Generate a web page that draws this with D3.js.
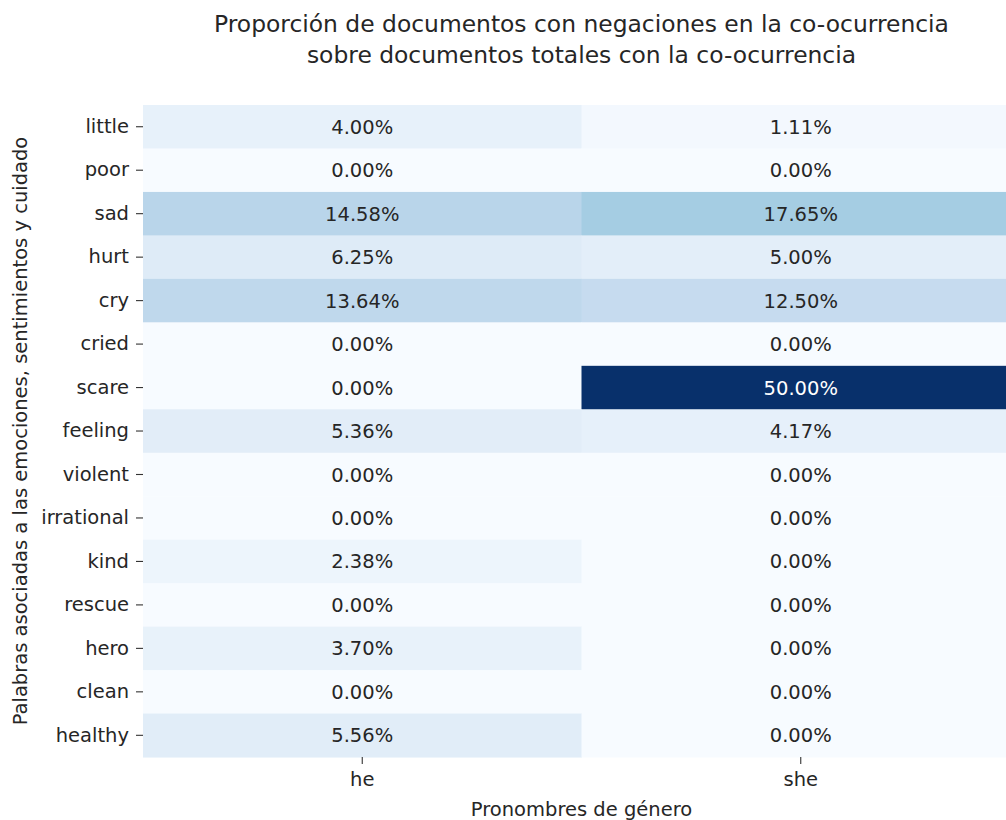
<!DOCTYPE html>
<html>
<head>
<meta charset="utf-8">
<script src="https://cdn.jsdelivr.net/npm/d3@7"></script>
<style>
  body { margin: 0; background: #fff; }
  text { font-family: 'DejaVu Sans', sans-serif; }
</style>
</head>
<body>
<div class="canvas"></div>
<script>
const words = ['little', 'poor', 'sad', 'hurt', 'cry', 'cried', 'scare', 'feeling',
  'violent', 'irrational', 'kind', 'rescue', 'hero', 'clean', 'healthy'];
const pronouns = ['he', 'she'];
const heValues = [4.00, 0.00, 14.58, 6.25, 13.64, 0.00, 0.00, 5.36, 0.00, 0.00, 2.38, 0.00, 3.70, 0.00, 5.56];
const sheValues = [1.11, 0.00, 17.65, 5.00, 12.50, 0.00, 50.00, 4.17, 0.00, 0.00, 0.00, 0.00, 0.00, 0.00, 0.00];

const titleLines = [
  'Proporción de documentos con negaciones en la co-ocurrencia',
  'sobre documentos totales con la co-ocurrencia'
];
const xTitle = 'Pronombres de género';
const yTitle = 'Palabras asociadas a las emociones, sentimientos y cuidado';

const cells = [];
words.forEach((w, i) => {
  cells.push({ word: w, pron: 'he', value: heValues[i] });
  cells.push({ word: w, pron: 'she', value: sheValues[i] });
});

const dims = { width: 1006, height: 820 };
const margin = { top: 105, left: 143 };
const cellW = 438.5;
const rowH = 43.47;
const fs = 19.5;

const svg = d3
  .select('.canvas')
  .append('svg')
  .attr('width', dims.width)
  .attr('height', dims.height);

const x = d3.scaleBand().domain(pronouns).range([margin.left, margin.left + cellW * 2]);
const y = d3.scaleBand().domain(words).range([margin.top, margin.top + rowH * words.length]);

// matplotlib Blues is a linear ramp over the 9 ColorBrewer stops
const blues = d3.schemeBlues[9];
const vmax = d3.max(cells, d => d.value);
const color = d3
  .scaleLinear()
  .domain(blues.map((_, i) => (i / (blues.length - 1)) * vmax))
  .range(blues)
  .interpolate(d3.interpolateRgb);

const graph = svg.append('g');

graph
  .selectAll('rect')
  .data(cells)
  .enter()
  .append('rect')
  .attr('x', d => x(d.pron))
  .attr('y', d => y(d.word))
  .attr('width', x.bandwidth() + 0.5)
  .attr('height', y.bandwidth() + 0.5)
  .attr('fill', d => color(d.value));

graph
  .selectAll('text.annot')
  .data(cells)
  .enter()
  .append('text')
  .attr('class', 'annot')
  .attr('x', d => x(d.pron) + x.bandwidth() / 2)
  .attr('y', d => y(d.word) + y.bandwidth() / 2)
  .attr('dy', '0.36em')
  .attr('text-anchor', 'middle')
  .attr('font-size', fs)
  .attr('fill', d => (d3.hsl(color(d.value)).l < 0.5 ? '#ffffff' : '#262626'))
  .text(d => d.value.toFixed(2) + '%');

const yAxis = svg
  .append('g')
  .attr('transform', `translate(${margin.left}, 0)`)
  .call(d3.axisLeft(y).tickSize(7).tickPadding(7));
const xAxis = svg
  .append('g')
  .attr('transform', `translate(0, ${margin.top + rowH * words.length})`)
  .call(d3.axisBottom(x).tickSize(7).tickPadding(8));

[xAxis, yAxis].forEach(ax => {
  ax.select('.domain').remove();
  ax.selectAll('line').attr('stroke', '#333').attr('stroke-width', 1.1);
  ax.selectAll('text')
    .attr('font-size', fs)
    .attr('fill', '#262626')
    .style('font-family', "'DejaVu Sans', sans-serif");
});

const centerX = margin.left + cellW;

svg
  .selectAll('text.title')
  .data(titleLines)
  .enter()
  .append('text')
  .attr('class', 'title')
  .attr('x', centerX)
  .attr('y', (d, i) => 32 + i * 31)
  .attr('text-anchor', 'middle')
  .attr('font-size', 23.4)
  .attr('fill', '#262626')
  .text(d => d);

svg
  .append('text')
  .attr('x', centerX)
  .attr('y', 816)
  .attr('text-anchor', 'middle')
  .attr('font-size', fs)
  .attr('fill', '#262626')
  .text(xTitle);

svg
  .append('text')
  .attr('transform', `translate(27, ${margin.top + (rowH * words.length) / 2}) rotate(-90)`)
  .attr('text-anchor', 'middle')
  .attr('font-size', fs)
  .attr('fill', '#262626')
  .text(yTitle);
</script>
</body>
</html>
